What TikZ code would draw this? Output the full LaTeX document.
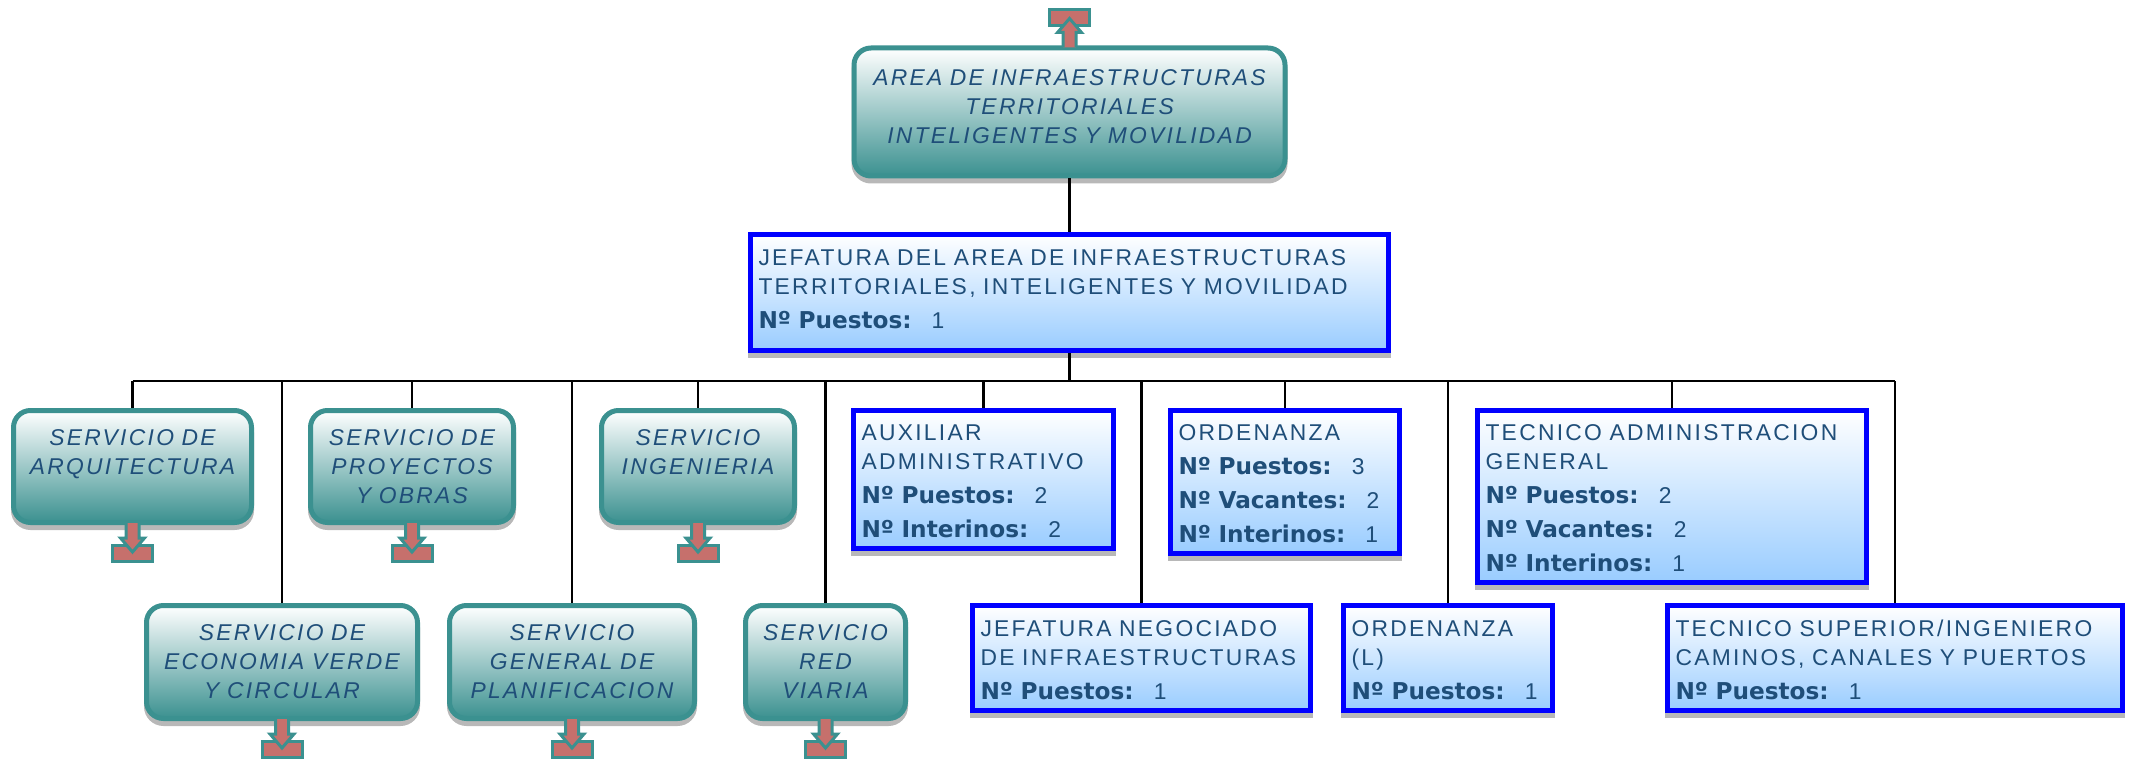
\documentclass[tikz,border=0pt]{standalone}
\usepackage{fontspec}
\usetikzlibrary{shadows}
\newfontfamily\etqfont{Liberation Sans}[LetterSpace=10]
\newfontfamily\negfont{DejaVu Sans}
\definecolor{verdeazul}{HTML}{3B9190}
\definecolor{texto}{HTML}{1F4E79}
\definecolor{rojizo}{HTML}{C6706C}
\definecolor{azulclaro}{HTML}{99CCFF}
\def\px{0.02cm}
\newcommand{\dato}[2]{{\negfont\bfseries\fontsize{13.2}{16}\selectfont Nº #1:}\hspace{0.4cm}#2}
\tikzset{
    tam/.style 2 args={text width=(#1-16)*\px,minimum height=#2*\px},
    sombra/.style={drop shadow={shadow xshift=0cm,shadow yshift=-0.1cm,fill=black!28,draw=black!28,opacity=1}},
    servicio/.style={draw=verdeazul,line width=5*\px,rounded corners=0.34cm,top color=white,bottom color=verdeazul,sombra,
        inner xsep=8*\px,inner ysep=0pt,align=center,text=texto,font=\etqfont\itshape\fontsize{13}{16.5}\selectfont},
    puesto/.style={draw=blue,line width=5*\px,top color=white,bottom color=azulclaro,sombra,
        inner xsep=8*\px,inner ysep=0pt,align=left,text=texto,font=\etqfont\fontsize{13}{16.5}\selectfont},
    conector/.style={draw=black,line width=2.2*\px},
    flecha/.pic={
        \draw[draw=verdeazul,fill=rojizo,line width=3*\px] (-20,20) rectangle (20,36);
        \draw[draw=verdeazul,fill=rojizo,line width=3*\px,line join=miter] (-6.5,-2) -- (-6.5,13) -- (-12,13) -- (0,27) -- (12,13) -- (6.5,13) -- (6.5,-2);
    }
}
\begin{document}
\begin{tikzpicture}[x=\px,y=-\px]

    \useasboundingbox (0,0) rectangle (2139,760);

    \coordinate (bus) at (1069.5,381);

    \node [servicio,tam={431}{128}] (area) at (1069.5,112) {AREA DE INFRAESTRUCTURAS\\TERRITORIALES\\INTELIGENTES Y MOVILIDAD\rule[-0.2cm]{0pt}{0pt}};
    \node [puesto,tam={638}{116}] (jefatura) at (1069.5,292.5) {JEFATURA DEL AREA DE INFRAESTRUCTURAS\\TERRITORIALES, INTELIGENTES Y MOVILIDAD\\[0.1cm]\dato{Puestos}{1}\rule[-0.12cm]{0pt}{0pt}};

    \node [servicio,tam={238}{112}] (arq) at (132.5,466.5) {SERVICIO DE\\ARQUITECTURA\\~};
    \node [servicio,tam={203}{112}] (proy) at (412,466.5) {SERVICIO DE\\PROYECTOS\\Y OBRAS};
    \node [servicio,tam={193}{112}] (ing) at (698,466.5) {SERVICIO\\INGENIERIA\\~};
    \node [servicio,tam={271}{113}] (eco) at (282,662) {SERVICIO DE\\ECONOMIA VERDE\\Y CIRCULAR};
    \node [servicio,tam={245}{113}] (plan) at (572,662) {SERVICIO\\GENERAL DE\\PLANIFICACION};
    \node [servicio,tam={160}{113}] (red) at (825.5,662) {SERVICIO\\RED\\VIARIA};

    \node [puesto,tam={260}{138}] (aux) at (983.5,479.5) {\rule{0pt}{0.38cm}AUXILIAR\\ADMINISTRATIVO\\[0.1cm]\dato{Puestos}{2}\\[0.1cm]\dato{Interinos}{2}};
    \node [puesto,tam={229}{143}] (ord) at (1285,482) {\rule{0pt}{0.38cm}ORDENANZA\\[0.1cm]\dato{Puestos}{3}\\[0.1cm]\dato{Vacantes}{2}\\[0.1cm]\dato{Interinos}{1}};
    \node [puesto,tam={389}{172}] (tadm) at (1672,496.5) {\rule{0pt}{0.4cm}TECNICO ADMINISTRACION\\GENERAL\\[0.1cm]\dato{Puestos}{2}\\[0.1cm]\dato{Vacantes}{2}\\[0.1cm]\dato{Interinos}{1}};
    \node [puesto,tam={338}{105}] (jneg) at (1141.5,658) {\rule{0pt}{0.42cm}JEFATURA NEGOCIADO\\DE INFRAESTRUCTURAS\\[0.1cm]\dato{Puestos}{1}};
    \node [puesto,tam={209}{105}] (ordl) at (1448,658) {\rule{0pt}{0.42cm}ORDENANZA\\(L)\\[0.1cm]\dato{Puestos}{1}};
    \node [puesto,tam={455}{105}] (tsup) at (1895,658) {\rule{0pt}{0.42cm}TECNICO SUPERIOR/INGENIERO\\CAMINOS, CANALES Y PUERTOS\\[0.1cm]\dato{Puestos}{1}};

    \draw [conector] (area) -- (jefatura);
    \draw [conector] (jefatura) -- (bus);
    \draw [conector] (arq.north |- bus) -- (tsup.north |- bus);

    \foreach \n in {arq,proy,ing,eco,plan,red,aux,ord,tadm,jneg,ordl,tsup}
        \draw [conector] (\n.north) -- (\n.north |- bus);

    \foreach \n in {arq,proy,ing,eco,plan,red}
        \pic at (\n.south) {flecha};

    \pic [yscale=-1] at (area.north) {flecha};

\end{tikzpicture}
\end{document}
